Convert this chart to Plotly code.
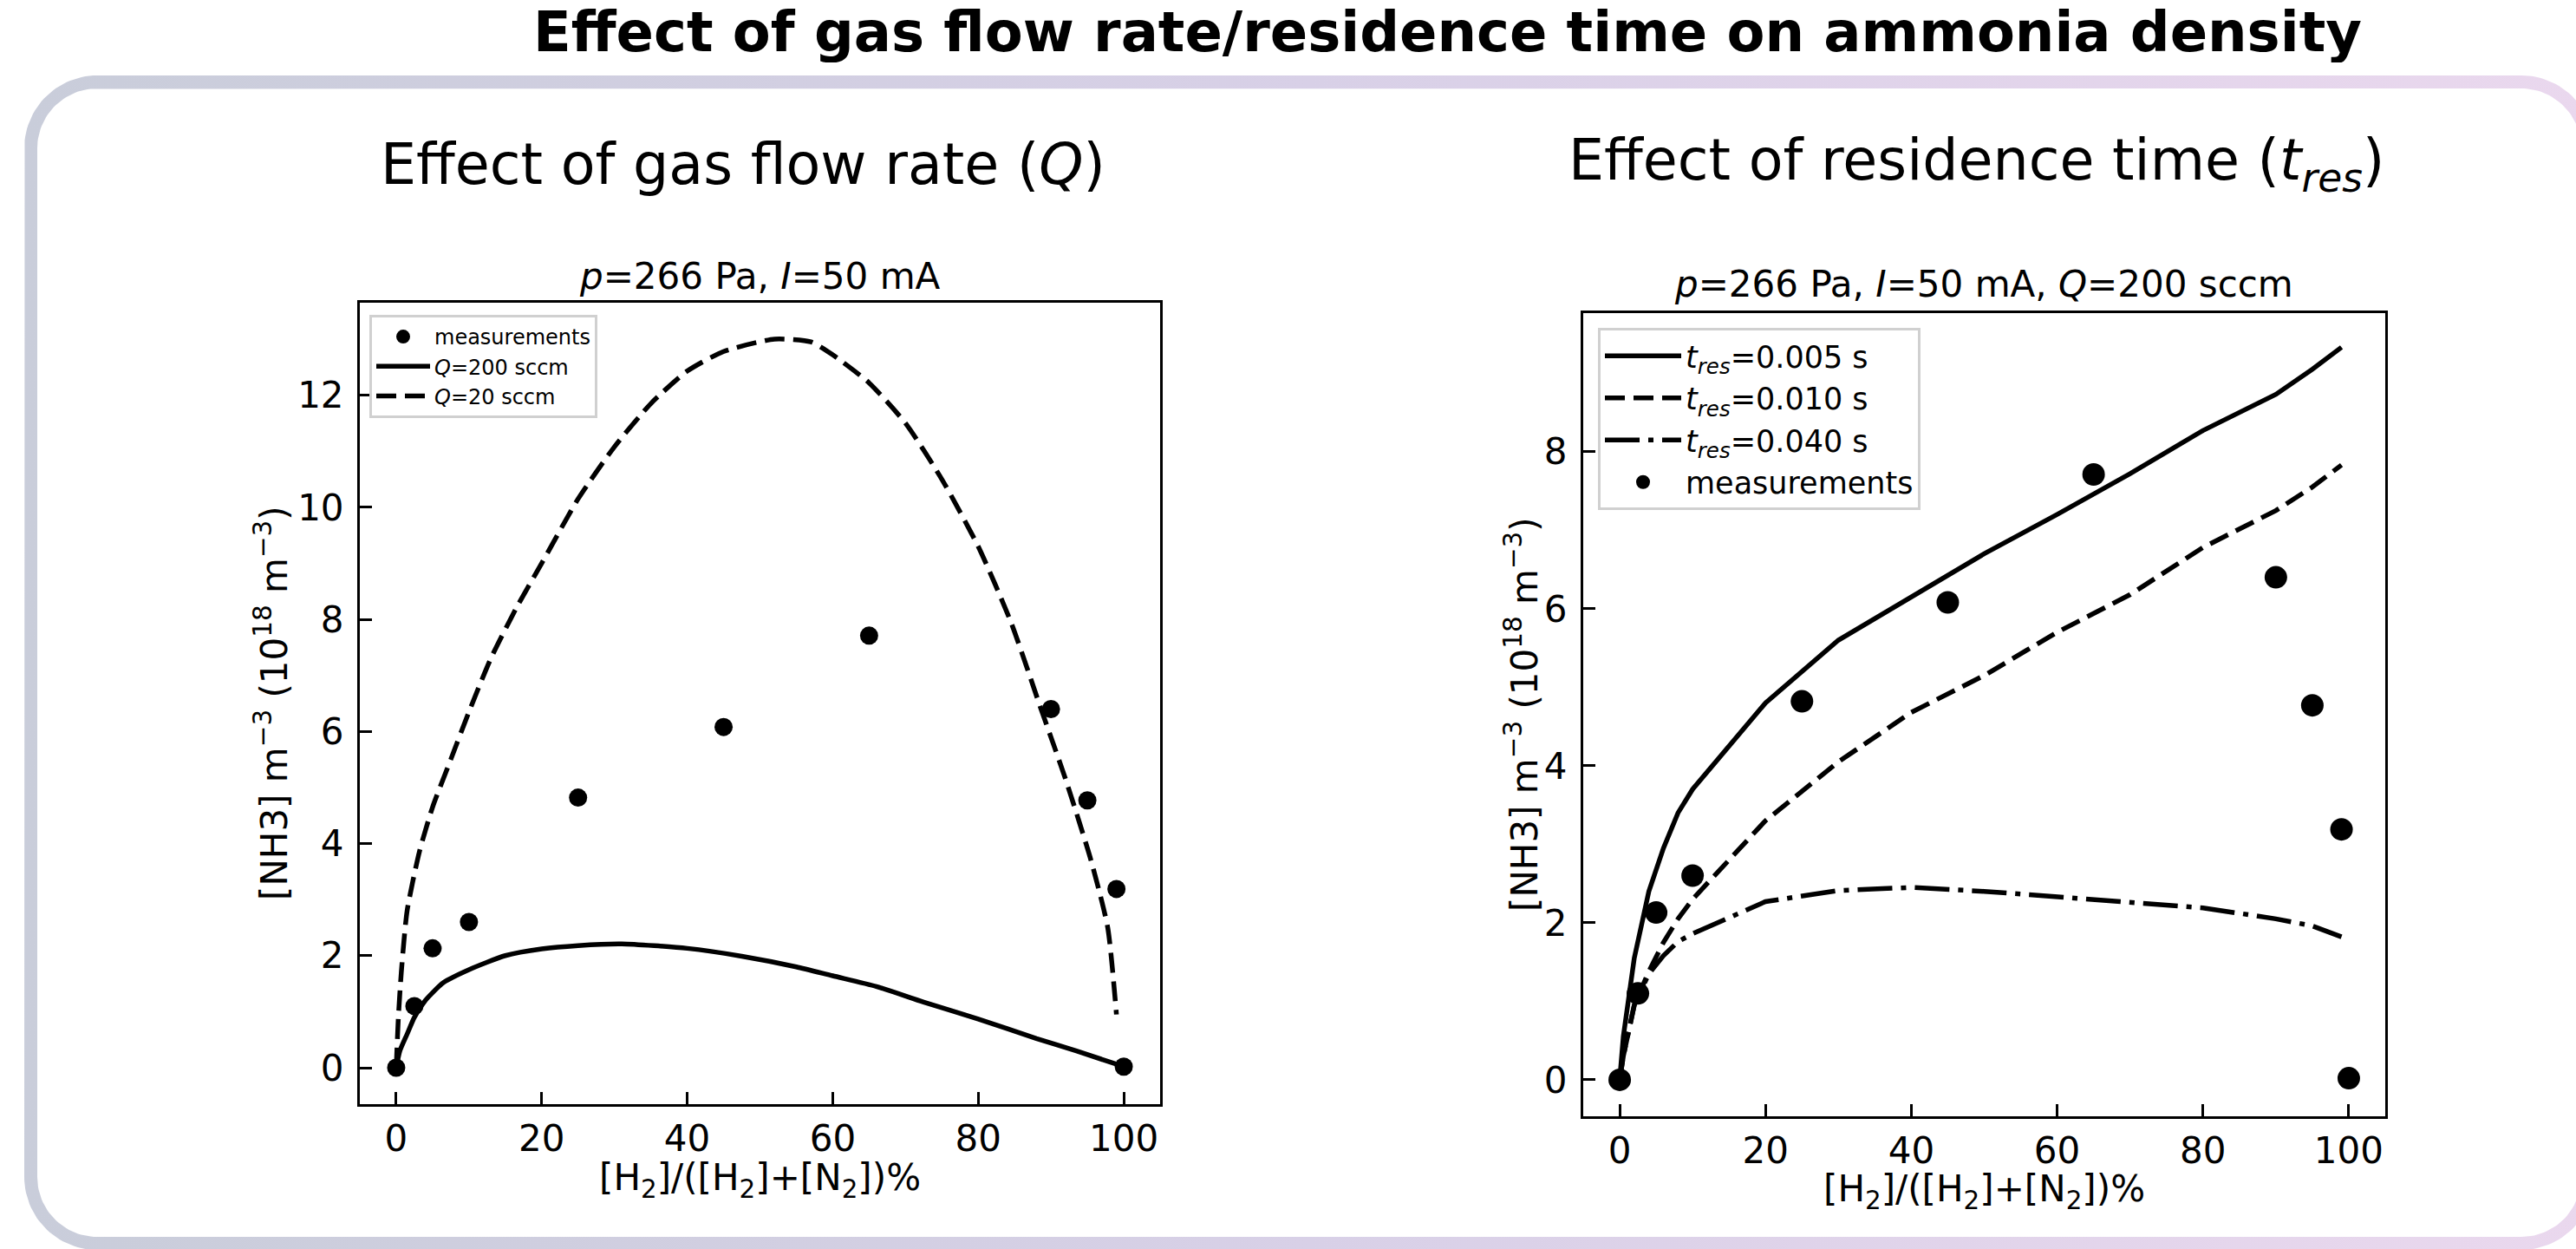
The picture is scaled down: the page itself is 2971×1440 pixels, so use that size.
import numpy as np
import plotly.graph_objects as go

W, H = 2971, 1440

# ---------------- data ----------------
# measurements (shared by both panels)
meas_x = [0, 2.5, 5, 10, 25, 45, 65, 90, 95, 99, 100]
meas_y = [0.0, 1.10, 2.13, 2.60, 4.82, 6.08, 7.71, 6.40, 4.77, 3.19, 0.02]

# left panel: gas flow rate model curves
q200_x = [0, 0.5, 1.5, 2.5, 4, 6.5, 10, 15, 20, 25, 31, 40, 47.5, 55, 60, 66, 72.5, 80, 88, 93.5, 100]
q200_y = [0, 0.3, 0.6, 0.9, 1.2, 1.52, 1.75, 2.0, 2.12, 2.18, 2.21, 2.13, 1.99, 1.8, 1.64, 1.45, 1.17, 0.87, 0.52, 0.3, 0.02]

q20_x = [0, 0.3, 0.7, 1.5, 3.2, 5, 7.5, 10, 13, 16.5, 20, 25, 30, 35, 40, 45, 52, 57, 60, 65, 70, 75, 80,
         84.5, 88.5, 92, 95.5, 97.8, 99]
q20_y = [0, 0.9, 1.7, 2.8, 3.86, 4.65, 5.5, 6.35, 7.3, 8.2, 9.0, 10.15, 11.08, 11.85, 12.43, 12.78, 13.0,
         12.95, 12.72, 12.22, 11.5, 10.5, 9.3, 7.95, 6.45, 5.15, 3.7, 2.5, 0.95]

# right panel: residence time model curves
tres_x = [0, 0.5, 2, 4, 6, 8, 10, 20, 30, 40, 50, 60, 70, 80, 90, 95, 99]
t005_y = [0, 0.55, 1.55, 2.4, 2.95, 3.4, 3.7, 4.8, 5.6, 6.15, 6.7, 7.2, 7.72, 8.27, 8.73, 9.05, 9.33]
t010_y = [0, 0.3, 0.95, 1.38, 1.75, 2.05, 2.3, 3.3, 4.05, 4.68, 5.15, 5.7, 6.18, 6.78, 7.25, 7.55, 7.83]
t040_y = [0, 0.3, 0.95, 1.35, 1.58, 1.76, 1.86, 2.27, 2.41, 2.45, 2.4, 2.33, 2.26, 2.19, 2.05, 1.96, 1.82]

x_ticks = [0, 20, 40, 60, 80, 100]
y_ticks_left = [0, 2, 4, 6, 8, 10, 12]
y_ticks_right = [0, 2, 4, 6, 8]

FONT = "DejaVu Sans"


def px(x):
    return x / W


def py(y):
    return 1 - y / H


# ---------------- decorative border (rounded ring with gradient) ----------------
def rounded_rect(x0, y0, x1, y1, r, n=30):
    pts = []
    corners = [
        (x1 - r, y0 + r, -90, 0),     # top-right
        (x1 - r, y1 - r, 0, 90),      # bottom-right
        (x0 + r, y1 - r, 90, 180),    # bottom-left
        (x0 + r, y0 + r, 180, 270),   # top-left
    ]
    for cx, cy, a0, a1 in corners:
        for a in np.linspace(np.radians(a0), np.radians(a1), n):
            pts.append((cx + r * np.cos(a), cy + r * np.sin(a)))
    pts.append(pts[0])
    return pts


outer = rounded_rect(28, 87, 2992, 1441, 84)
inner = rounded_rect(43, 102, 2977, 1426, 69)[::-1]
ring = outer + inner + [outer[0]]
ring_x = [p[0] for p in ring]
ring_y = [p[1] for p in ring]

fig = go.Figure()

fig.add_trace(go.Scatter(
    x=ring_x, y=ring_y, xaxis="x3", yaxis="y3", mode="lines",
    line=dict(width=0), fill="toself",
    fillgradient=dict(type="horizontal",
                      colorscale=[[0, "#c9cdda"], [0.5, "#d8d0e7"], [1, "#ead8ee"]]),
    hoverinfo="skip", showlegend=False,
))

LW = 5.5
DASH = "23px,10px"
DASHDOT = "40px,10px,6px,10px"

# ---------------- left panel ----------------
fig.add_trace(go.Scatter(
    x=meas_x, y=meas_y, mode="markers", name="measurements",
    marker=dict(color="black", size=21), xaxis="x", yaxis="y", legend="legend",
))
fig.add_trace(go.Scatter(
    x=q200_x, y=q200_y, mode="lines", name="<i>Q</i>=200 sccm",
    line=dict(color="black", width=LW, shape="spline", smoothing=0.6),
    xaxis="x", yaxis="y", legend="legend",
))
fig.add_trace(go.Scatter(
    x=q20_x, y=q20_y, mode="lines", name="<i>Q</i>=20 sccm",
    line=dict(color="black", width=LW, dash=DASH, shape="spline", smoothing=0.6),
    xaxis="x", yaxis="y", legend="legend",
))

# ---------------- right panel ----------------
fig.add_trace(go.Scatter(
    x=tres_x, y=t005_y, mode="lines", name="<i>t</i><sub><i>res</i></sub>=0.005 s",
    line=dict(color="black", width=LW), xaxis="x2", yaxis="y2", legend="legend2",
))
fig.add_trace(go.Scatter(
    x=tres_x, y=t010_y, mode="lines", name="<i>t</i><sub><i>res</i></sub>=0.010 s",
    line=dict(color="black", width=LW, dash=DASH), xaxis="x2", yaxis="y2", legend="legend2",
))
fig.add_trace(go.Scatter(
    x=tres_x, y=t040_y, mode="lines", name="<i>t</i><sub><i>res</i></sub>=0.040 s",
    line=dict(color="black", width=LW, dash=DASHDOT), xaxis="x2", yaxis="y2", legend="legend2",
))
fig.add_trace(go.Scatter(
    x=meas_x, y=meas_y, mode="markers", name="measurements",
    marker=dict(color="black", size=26), xaxis="x2", yaxis="y2", legend="legend2",
))

axis_common = dict(
    showline=True, linecolor="black", linewidth=3, mirror=True,
    ticks="inside", ticklen=14, tickwidth=3, tickcolor="black",
    tickfont=dict(family=FONT, size=42, color="black"),
    showgrid=False, zeroline=False, fixedrange=True,
)

fig.update_layout(
    width=W, height=H,
    margin=dict(l=0, r=0, t=0, b=0),
    paper_bgcolor="white",
    plot_bgcolor="rgba(0,0,0,0)",
    font=dict(family=FONT, color="black"),
    xaxis=dict(domain=[px(415), px(1338)], range=[-5, 105], tickvals=x_ticks,
               anchor="y", ticklabelstandoff=1, **axis_common),
    yaxis=dict(domain=[py(1273), py(349)], range=[-0.65, 13.65], tickvals=y_ticks_left,
               anchor="x", ticklabelstandoff=7, **axis_common),
    xaxis2=dict(domain=[px(1826), px(2751)], range=[-5, 105], tickvals=x_ticks,
                anchor="y2", ticklabelstandoff=1, **axis_common),
    yaxis2=dict(domain=[py(1287), py(361)], range=[-0.465, 9.765], tickvals=y_ticks_right,
                anchor="x2", ticklabelstandoff=7, **axis_common),
    xaxis3=dict(domain=[0, 1], range=[0, W], visible=False, anchor="y3", fixedrange=True),
    yaxis3=dict(domain=[0, 1], range=[H, 0], visible=False, anchor="x3", fixedrange=True),
    legend=dict(
        x=px(426), y=py(363), xanchor="left", yanchor="top",
        bgcolor="white", bordercolor="#d0d0d0", borderwidth=3,
        font=dict(family=FONT, size=24, color="black"),
        tracegroupgap=0, itemwidth=62,
    ),
    legend2=dict(
        x=px(1843), y=py(378), xanchor="left", yanchor="top",
        bgcolor="white", bordercolor="#d0d0d0", borderwidth=3,
        font=dict(family=FONT, size=35, color="black"),
        tracegroupgap=0, itemwidth=88,
    ),
    showlegend=True,
)

annotations = [
    dict(text="<b>Effect of gas flow rate/residence time on ammonia density</b>",
         x=px(1670), y=py(37), font=dict(size=64), height=70),
    dict(text="Effect of gas flow rate (<i>Q</i>)", x=px(857), y=py(190), font=dict(size=65)),
    dict(text="Effect of residence time (<i>t</i><sub><i>res</i></sub>)", x=px(2279), y=py(190),
         font=dict(size=65)),
    dict(text="<i>p</i>=266 Pa, <i>I</i>=50 mA", x=px(876), y=py(318), font=dict(size=42)),
    dict(text="<i>p</i>=266 Pa, <i>I</i>=50 mA, <i>Q</i>=200 sccm", x=px(2288), y=py(328),
         font=dict(size=42)),
    dict(text="[H<sub>2</sub>]/([H<sub>2</sub>]+[N<sub>2</sub>])%", x=px(876), y=py(1360),
         font=dict(size=42)),
    dict(text="[H<sub>2</sub>]/([H<sub>2</sub>]+[N<sub>2</sub>])%", x=px(2288), y=py(1373),
         font=dict(size=42)),
    dict(text="[NH3] m<sup>\u22123</sup> (10<sup>18</sup> m<sup>\u22123</sup>)", x=px(313), y=py(811),
         textangle=-90, font=dict(size=42)),
    dict(text="[NH3] m<sup>\u22123</sup> (10<sup>18</sup> m<sup>\u22123</sup>)", x=px(1755), y=py(824),
         textangle=-90, font=dict(size=42)),
]
for a in annotations:
    a.update(xref="paper", yref="paper", showarrow=False, xanchor="center", yanchor="middle")
    a["font"] = dict(family=FONT, color="black", **a["font"])
fig.update_layout(annotations=annotations)

fig.write_html("out.html")
